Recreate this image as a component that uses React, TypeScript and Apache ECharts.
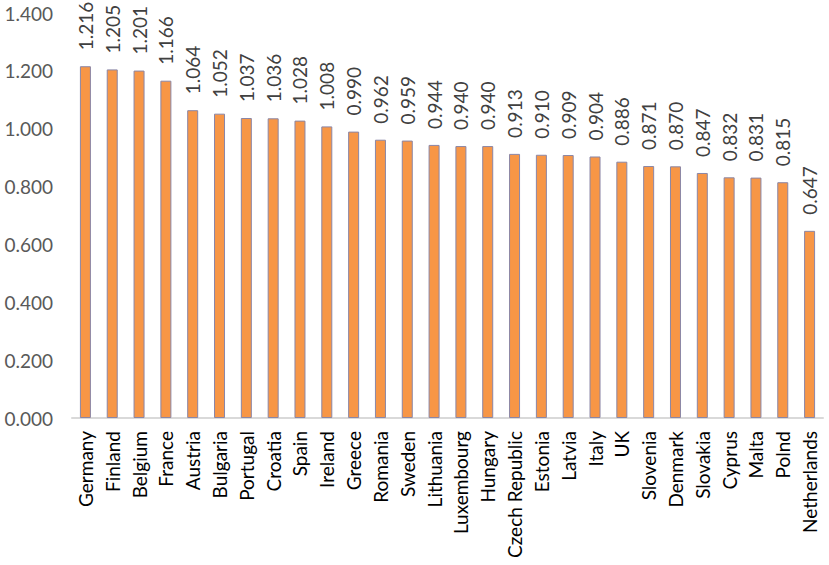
import React, { useEffect, useRef } from "react";
import * as echarts from "echarts";

const categories = [
  "Germany", "Finland", "Belgium", "France", "Austria", "Bulgaria", "Portugal",
  "Croatia", "Spain", "Ireland", "Greece", "Romania", "Sweden", "Lithuania",
  "Luxembourg", "Hungary", "Czech Republic", "Estonia", "Latvia", "Italy", "UK",
  "Slovenia", "Denmark", "Slovakia", "Cyprus", "Malta", "Polnd", "Netherlands",
];
const values = [
  1.216, 1.205, 1.201, 1.166, 1.064, 1.052, 1.037, 1.036, 1.028, 1.008, 0.99,
  0.962, 0.959, 0.944, 0.94, 0.94, 0.913, 0.91, 0.909, 0.904, 0.886, 0.871,
  0.87, 0.847, 0.832, 0.831, 0.815, 0.647,
];

export default function App() {
  const ref = useRef<HTMLDivElement>(null);
  useEffect(() => {
    document.body.style.margin = "0";
    if (!ref.current) return;
    const chart = echarts.init(ref.current, null, { renderer: "svg" });
    const font = "Lato, 'Open Sans', sans-serif";
    chart.setOption({
      animation: false,
      grid: { left: 72, right: 6, top: 13, bottom: 147, containLabel: false },
      xAxis: {
        type: "category",
        data: categories,
        axisLine: { show: true, lineStyle: { color: "#d9d9d9", width: 2 } },
        axisTick: { show: false },
        axisLabel: {
          rotate: 90,
          interval: 0,
          color: "#000",
          fontSize: 19,
          fontFamily: font,
          margin: 13,
        },
      },
      yAxis: {
        type: "value",
        min: 0,
        max: 1.4,
        interval: 0.2,
        splitLine: { show: false },
        axisLine: { show: false },
        axisTick: { show: false },
        axisLabel: {
          color: "#595959",
          fontSize: 19,
          fontFamily: font,
          margin: 19,
          formatter: (v: number) => v.toFixed(3),
        },
      },
      series: [
        {
          type: "bar",
          data: values,
          barWidth: 11,
          itemStyle: { color: "#F79646", borderColor: "#8a86a6", borderWidth: 1 },
          label: {
            show: true,
            position: "top",
            rotate: 90,
            align: "left",
            verticalAlign: "middle",
            distance: 16,
            color: "#404040",
            fontSize: 19,
            fontFamily: font,
            formatter: (p: any) => p.value.toFixed(3),
          },
        },
      ],
    });
    return () => chart.dispose();
  }, []);
  return <div ref={ref} style={{ width: 829, height: 565 }} />;
}
